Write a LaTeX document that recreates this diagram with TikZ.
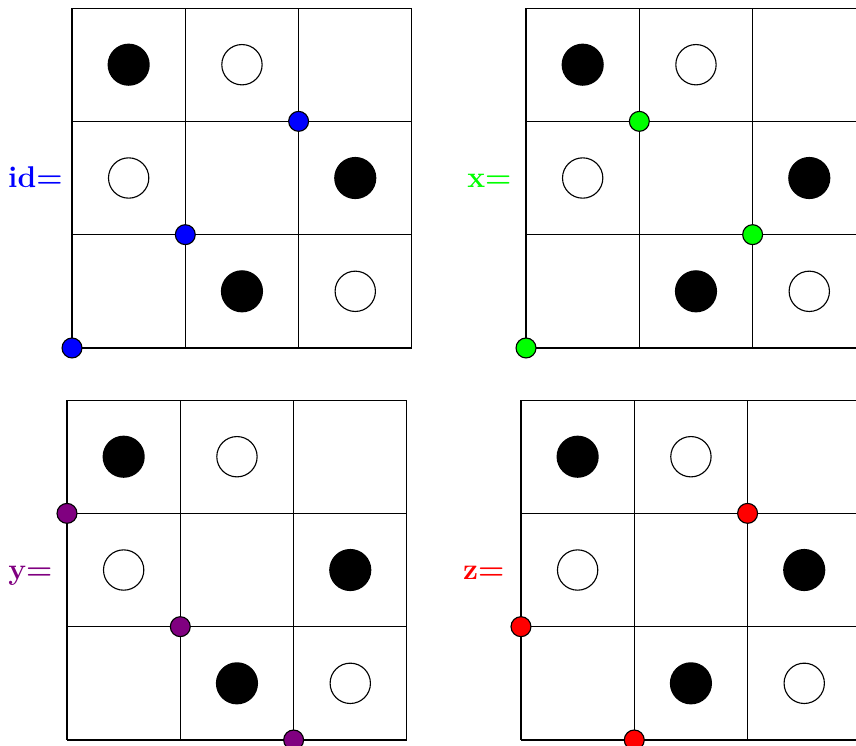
\documentclass[tikz,border=0pt]{standalone}
\usepackage{tikz}
\definecolor{dotblue}  {HTML}{0000FF}
\definecolor{dotgreen} {HTML}{00FF00}
\definecolor{dotpurple}{HTML}{800080}
\definecolor{dotred}   {HTML}{FF0000}
\tikzset{
  boardline/.style={draw=black, line width=0.45pt},
  stoneb/.style   ={fill=black},
  stonew/.style   ={draw=black, line width=0.45pt, fill=white},
  corner/.style   ={draw=black, line width=0.45pt},
  lab/.style      ={font=\large\bfseries, inner sep=0pt, anchor=base east}
}

\begin{document}
\begin{tikzpicture}[x=45.32pt, y=45.32pt]
\useasboundingbox (0,0) rectangle (7.555,6.584);
\clip (0,0) rectangle (7.555,6.584);

\foreach \ox/\oy/\gap/\nm/\col/\pts in {
    0.6355/3.5128/0.079/id/dotblue/{0/0,1/1,2/2},
    4.6426/3.5128/0.124/x/dotgreen/{0/0,2/1,1/2},
    0.5914/0.053/0.124/y/dotpurple/{0/2,1/1,2/0},
    4.598/0.053/0.141/z/dotred/{0/1,1/0,2/2}}{
  \begin{scope}[shift={(\ox,\oy)}]
    \draw[boardline, step=1] (0,0) grid (3,3);
    % stones
    \foreach \c/\r in {0.5/2.5,2.5/1.5,1.5/0.5}
      \fill[stoneb] (\c,\r) circle (0.186);
    \foreach \c/\r in {1.5/2.5,0.5/1.5,2.5/0.5}
      \draw[stonew] (\c,\r) circle (0.178);
    % lattice points
    \foreach \a/\b in \pts
      \draw[corner, fill=\col] (\a,\b) circle (0.088);
    \node[lab, text=\col] (lab-\nm) at (-\gap,1.42) {\nm=};
  \end{scope}
}
\end{tikzpicture}
\end{document}
